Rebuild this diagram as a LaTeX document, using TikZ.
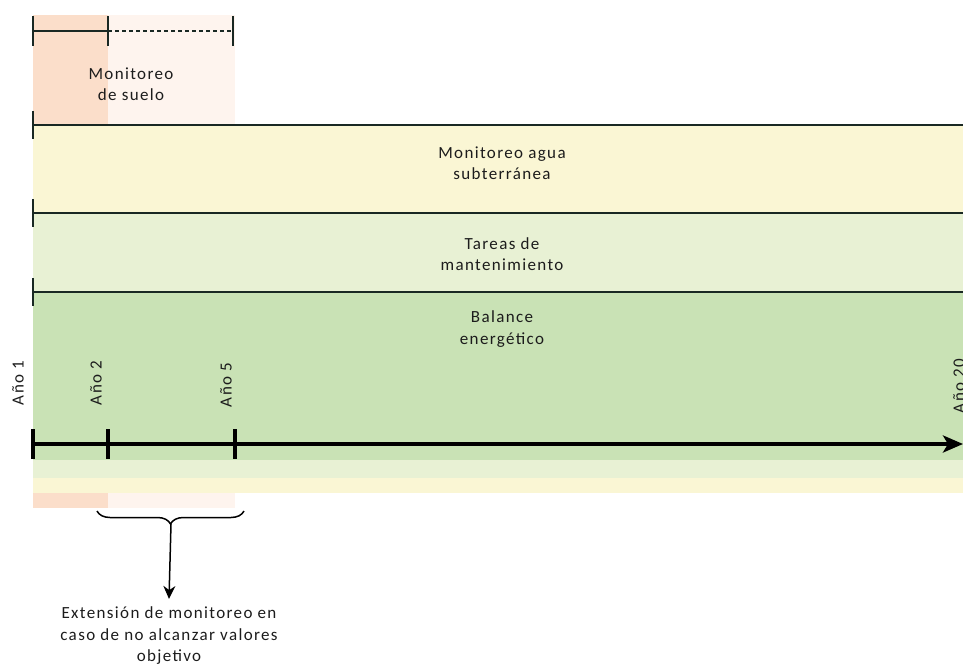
\documentclass[tikz,border=0pt]{standalone}
\usepackage{fontspec}
\setmainfont{Carlito}[LetterSpace=8]
\usetikzlibrary{arrows.meta,decorations.pathreplacing}

\definecolor{soil}{RGB}{251,222,202}
\definecolor{soilext}{RGB}{254,244,238}
\definecolor{water}{RGB}{250,246,212}
\definecolor{maint}{RGB}{232,241,212}
\definecolor{energy}{RGB}{201,226,181}
\definecolor{ink}{RGB}{28,28,28}
\definecolor{barline}{RGB}{25,40,35}

\begin{document}
\begin{tikzpicture}[x=1pt,y=-1pt,font=\fontsize{17}{21.5}\selectfont,text=ink,
    bar/.style={line width=2pt,draw=barline},
    axis/.style={line width=4pt,draw=black},
    band text/.style={align=center,inner sep=0pt},
    year/.style={rotate=90,inner sep=0pt}]

  \useasboundingbox (0,0) rectangle (963,666);

  % stacked bands
  \fill[soil] (33,15) rectangle (108,508);
  \fill[soilext] (108,15) rectangle (235,508);
  \fill[water] (33,125) rectangle (963,493);
  \fill[maint] (33,213) rectangle (963,478);
  \fill[energy] (33,292) rectangle (963,460);

  % soil monitoring bar
  \coordinate (s0) at (33,31);
  \coordinate (s1) at (108,31);
  \coordinate (s2) at (233,31);
  \draw[bar] (s0) -- (s1);
  \draw[bar,dashed,dash pattern=on 4pt off 3pt] (s1) -- (s2);
  \foreach \c in {s0,s1,s2}
    \draw[bar] ([yshift=15pt]\c) -- ([yshift=-15pt]\c);

  % band bars
  \foreach \y/\n in {125/water,213/maint,292/energy} {
    \coordinate (\n-a) at (33,\y);
    \coordinate (\n-b) at (963,\y);
    \draw[bar] (\n-a) -- (\n-b);
    \draw[bar] ([yshift=14pt]\n-a) -- ([yshift=-14pt]\n-a);
  }

  \node[band text] (soiltxt) at (131,84) {Monitoreo\\de suelo};
  \node[band text] (watertxt) at (502,163) {Monitoreo agua\\subterránea};
  \node[band text] (mainttxt) at (502,254) {Tareas de\\mantenimiento};
  \node[band text] (energytxt) at (502,329) {Balance\\energético};

  % time axis
  \coordinate (a1) at (33,444);
  \coordinate (a2) at (108,444);
  \coordinate (a5) at (235,444);
  \coordinate (a20) at (963,444);
  \draw[axis,-{Stealth[length=20pt,width=17pt,inset=5pt]}] (a1) -- (a20);
  \foreach \c in {a1,a2,a5}
    \draw[axis,line width=4.5pt] ([yshift=15pt]\c) -- ([yshift=-15pt]\c);

  \node[year] (y1) at (18,383) {Año 1};
  \node[year] (y2) at (96,383) {Año 2};
  \node[year] (y5) at (226,385) {Año 5};
  \node[year] (y20) at (959,386) {Año 20};

  % extension note
  \coordinate (b0) at (97,511);
  \coordinate (b1) at (244,511);
  \draw[line width=1.5pt,decorate,decoration={brace,mirror,amplitude=13pt}] (b0) -- (b1);
  \coordinate (btip) at (171,524);
  \node[band text] (note) at (169,636) {Extensión de monitoreo en\\caso de no alcanzar valores\\objetivo};
  \draw[line width=1.5pt,-{Stealth[length=13pt,width=12pt]}] (btip) -- ([yshift=8pt]note.north);
\end{tikzpicture}
\end{document}
